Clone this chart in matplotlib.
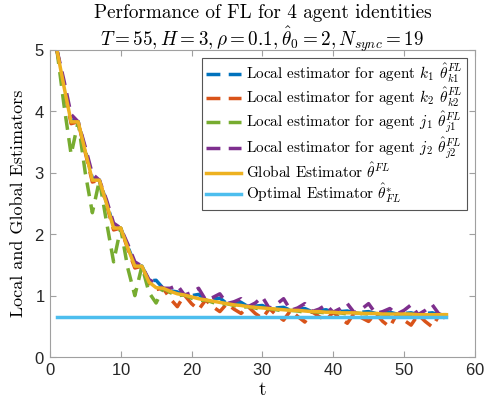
import numpy as np
import matplotlib
matplotlib.use('Agg')
import matplotlib.pyplot as plt

plt.rcParams['mathtext.fontset'] = 'cm'
plt.rcParams['axes.formatter.use_mathtext'] = True

# time steps
t = np.arange(1, 57)

global_est = [5.00, 4.40, 3.83, 3.83, 3.35, 2.88, 2.88, 2.50, 2.10, 2.10,
              1.78, 1.48, 1.48, 1.22, 1.13, 1.12, 1.07, 1.03, 1.01, 0.98,
              0.95, 0.93, 0.91, 0.89, 0.87, 0.85, 0.84, 0.82, 0.81, 0.80,
              0.79, 0.78, 0.77, 0.76, 0.76, 0.75, 0.74, 0.74, 0.73, 0.73,
              0.72, 0.72, 0.72, 0.71, 0.71, 0.71, 0.70, 0.70, 0.70, 0.70,
              0.70, 0.69, 0.69, 0.69, 0.69, 0.69]

local_k1 = [5.00, 4.42, 3.86, 3.83, 3.37, 2.91, 2.88, 2.52, 2.13, 2.10,
            1.80, 1.51, 1.48, 1.24, 1.25, 1.12, 1.08, 1.06, 1.01, 1.00,
            1.02, 0.93, 0.94, 0.96, 0.87, 0.87, 0.89, 0.82, 0.83, 0.84,
            0.79, 0.80, 0.81, 0.76, 0.78, 0.79, 0.74, 0.76, 0.77, 0.73,
            0.74, 0.75, 0.72, 0.73, 0.74, 0.71, 0.72, 0.73, 0.70, 0.71,
            0.72, 0.69, 0.71, 0.72, 0.69, 0.70]

local_k2 = [5.00, 4.38, 3.80, 3.83, 3.33, 2.85, 2.88, 2.48, 2.07, 2.10,
            1.76, 1.45, 1.48, 1.20, 1.10, 1.12, 0.95, 0.82, 1.01, 0.87,
            0.77, 0.93, 0.82, 0.74, 0.87, 0.78, 0.71, 0.82, 0.71, 0.63,
            0.79, 0.68, 0.60, 0.76, 0.66, 0.57, 0.74, 0.66, 0.60, 0.73,
            0.63, 0.55, 0.72, 0.64, 0.58, 0.71, 0.58, 0.49, 0.70, 0.60,
            0.52, 0.69, 0.58, 0.49, 0.69, 0.62]

local_j1 = [5.00, 4.10, 3.30, 3.83, 3.00, 2.35, 2.88, 2.20, 1.55, 2.10,
            1.45, 1.00, 1.48, 1.05, 0.88, 1.12, 1.05, 1.00, 1.01, 0.96,
            0.92, 0.93, 0.89, 0.86, 0.87, 0.84, 0.81, 0.82, 0.80, 0.77,
            0.79, 0.77, 0.75, 0.76, 0.75, 0.73, 0.74, 0.73, 0.72, 0.73,
            0.72, 0.70, 0.72, 0.71, 0.70, 0.71, 0.70, 0.69, 0.70, 0.70,
            0.69, 0.69, 0.69, 0.68, 0.69, 0.69]

local_j2 = [5.00, 4.50, 3.95, 3.83, 3.42, 2.98, 2.88, 2.56, 2.18, 2.10,
            1.84, 1.55, 1.48, 1.26, 1.20, 1.12, 1.12, 1.17, 1.01, 1.05,
            1.12, 0.93, 0.97, 1.03, 0.87, 0.90, 0.95, 0.82, 0.88, 0.98,
            0.79, 0.86, 0.95, 0.76, 0.80, 0.87, 0.74, 0.78, 0.85, 0.73,
            0.79, 0.87, 0.72, 0.78, 0.87, 0.71, 0.74, 0.79, 0.70, 0.76,
            0.85, 0.69, 0.76, 0.85, 0.69, 0.74]

optimal_value = 0.655

fig = plt.figure(figsize=(4.84, 4.03), dpi=100)
ax = fig.add_axes([0.103, 0.114, 0.878, 0.762])

dash = (4, 2.4)
ax.plot(t, local_k1, color='#0072BD', lw=2.5, dashes=dash,
        label=r'Local estimator for agent $k_1$ $\hat{\theta}^{FL}_{k1}$')
ax.plot(t, local_k2, color='#D95319', lw=2.5, dashes=dash,
        label=r'Local estimator for agent $k_2$ $\hat{\theta}^{FL}_{k2}$')
ax.plot(t, local_j1, color='#77AC30', lw=2.5, dashes=dash,
        label=r'Local estimator for agent $j_1$ $\hat{\theta}^{FL}_{j1}$')
ax.plot(t, local_j2, color='#7E2F8E', lw=2.5, dashes=dash,
        label=r'Local estimator for agent $j_2$ $\hat{\theta}^{FL}_{j2}$')
ax.plot(t, global_est, color='#EDB120', lw=2.5,
        label=r'Global Estimator $\hat{\theta}^{FL}$')
ax.plot(t, np.full(len(t), optimal_value), color='#4DBEEE', lw=2.5,
        label=r'Optimal Estimator $\hat{\theta}^{*}_{FL}$')

ax.set_xlim(0, 60)
ax.set_ylim(0, 5)
ax.set_xticks(range(0, 61, 10))
ax.set_yticks(range(0, 6))

for s in ax.spines.values():
    s.set_color('#a0a0a0')
    s.set_linewidth(0.8)
ax.tick_params(direction='in', top=True, right=True, length=4, width=0.8,
               color='#a0a0a0', labelsize=12, labelcolor='#262626')
for lab in ax.get_xticklabels() + ax.get_yticklabels():
    lab.set_family('Liberation Sans')

ax.set_xlabel('t', fontfamily='cmr10', fontsize=14, labelpad=2)
ax.set_ylabel('Local and Global Estimators', fontfamily='cmr10', fontsize=13, labelpad=6)
ax.set_title('Performance of FL for 4 agent identities\n'
             r'$T=55, H=3, \rho=0.1, \hat{\theta}_0=2, N_{sync}=19$',
             fontfamily='cmr10', fontsize=13.8, pad=3, linespacing=1.1)

leg = ax.legend(loc='upper right', prop={'family': 'cmr10', 'size': 11},
                handlelength=2.3, handletextpad=0.3, labelspacing=0.05,
                borderpad=0.3, borderaxespad=0.5, fancybox=False, framealpha=1)
leg.get_frame().set_edgecolor('#555555')
leg.get_frame().set_linewidth(0.8)

fig.savefig('out.png', dpi=100)
